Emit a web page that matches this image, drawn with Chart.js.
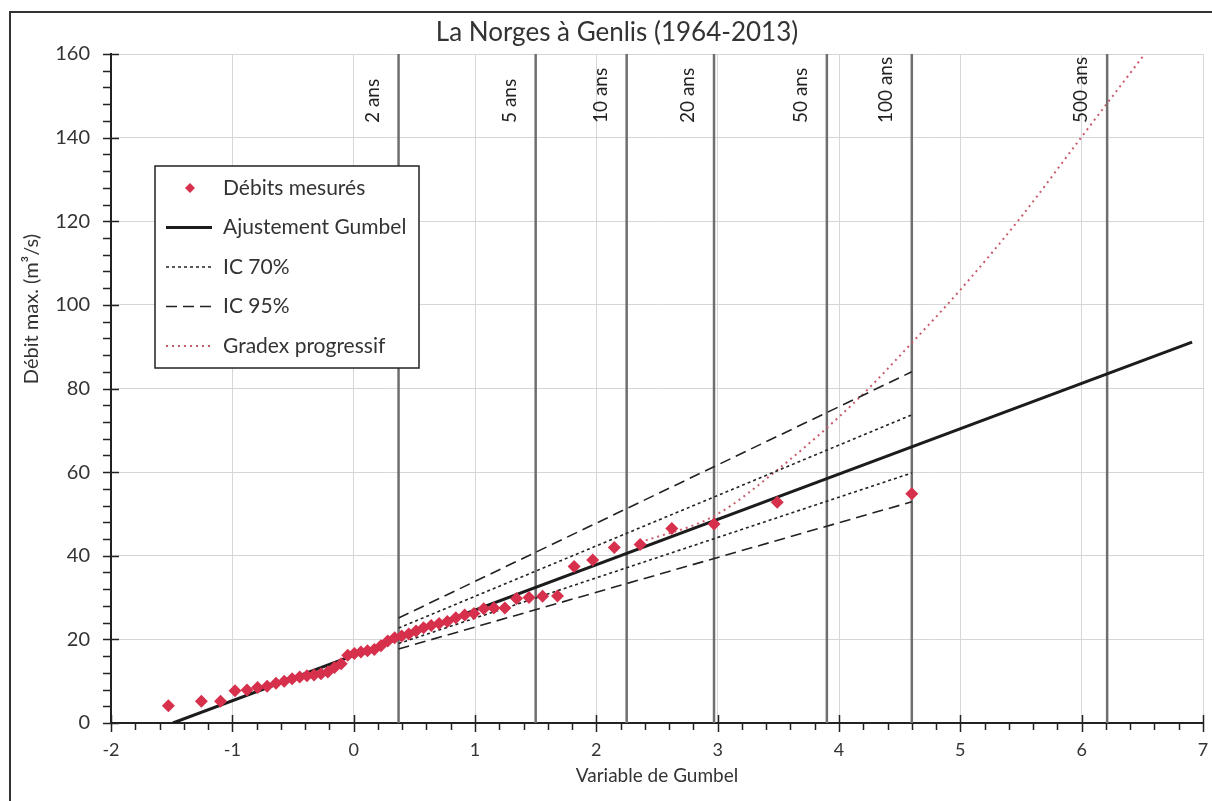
<!DOCTYPE html>
<html>
<head>
<meta charset="utf-8">
<script src="https://cdn.jsdelivr.net/npm/chart.js@4.4.0/dist/chart.umd.min.js"></script>
<style>
  html, body { margin: 0; padding: 0; background: #fff; }
  #wrap { width: 1212px; height: 801px; position: relative; }
</style>
</head>
<body>
<div id="wrap"><canvas id="gumbelChart" width="1212" height="801"></canvas></div>
<script>
// mesures (variable de Gumbel, debit max annuel)
const gumbelVar = [-1.527, -1.255, -1.097, -0.978, -0.879, -0.792, -0.713, -0.640, -0.572, -0.507,
  -0.445, -0.385, -0.327, -0.269, -0.213, -0.158, -0.103, -0.049, 0.006, 0.060,
  0.114, 0.170, 0.225, 0.281, 0.338, 0.396, 0.454, 0.514, 0.576, 0.639,
  0.704, 0.772, 0.842, 0.915, 0.991, 1.072, 1.156, 1.246, 1.342, 1.445,
  1.557, 1.680, 1.817, 1.970, 2.148, 2.361, 2.622, 2.970, 3.491, 4.600];
const debitsMesures = [4.1, 5.2, 5.2, 7.7, 7.9, 8.5, 8.8, 9.5, 10.0, 10.6,
  11.0, 11.3, 11.5, 11.8, 12.2, 13.3, 14.2, 16.2, 16.6, 17.0,
  17.3, 17.6, 18.5, 19.6, 20.4, 20.8, 21.3, 22.0, 22.8, 23.3,
  23.8, 24.3, 25.2, 25.8, 26.2, 27.3, 27.5, 27.5, 29.8, 30.0,
  30.3, 30.4, 37.4, 39.0, 42.0, 42.7, 46.5, 47.6, 52.8, 54.8];

// ajustement de Gumbel
const ajustX = [-1.49, 6.91];
const ajustY = [0, 91.1];

// intervalles de confiance (de 2 ans a 100 ans)
const icX = [0.37, 4.6];
const ic70Haut = [22.7, 73.7];
const ic70Bas = [19.0, 59.8];
const ic95Haut = [25.1, 84.0];
const ic95Bas = [17.7, 52.9];

// gradex progressif
const gradexX = [2.36, 2.97, 3.49, 4.15, 4.6, 5.0, 5.5, 6.0, 6.52];
const gradexY = [43.2, 49.5, 60.5, 77.3, 90.9, 103.6, 121, 140.2, 160];

// periodes de retour
const periodesLabels = ['2 ans', '5 ans', '10 ans', '20 ans', '50 ans', '100 ans', '500 ans'];
const periodesX = [0.37, 1.50, 2.25, 2.97, 3.90, 4.60, 6.21];

const FONT = 'Lato, "Open Sans", sans-serif';

function pts(xs, ys) {
  return xs.map((x, i) => ({ x: x, y: ys[i] }));
}

const decor = {
  id: 'decor',
  beforeDatasetsDraw(chart) {
    const { ctx, scales: { x, y } } = chart;
    ctx.save();
    ctx.strokeStyle = '#6f6f6f';
    ctx.lineWidth = 2.5;
    periodesX.forEach((v, i) => {
      const px = x.getPixelForValue(v);
      ctx.beginPath();
      ctx.moveTo(px, y.getPixelForValue(0));
      ctx.lineTo(px, y.getPixelForValue(160));
      ctx.stroke();
      ctx.save();
      ctx.translate(px - 26, 123);
      ctx.rotate(-Math.PI / 2);
      ctx.fillStyle = '#222';
      ctx.font = '19px ' + FONT;
      ctx.textAlign = 'left';
      ctx.textBaseline = 'middle';
      ctx.fillText(periodesLabels[i], 0, 0);
      ctx.restore();
    });
    ctx.restore();
  },
  afterDraw(chart) {
    const { ctx, chartArea: a, scales: { x, y } } = chart;
    ctx.save();

    // graduations
    ctx.strokeStyle = '#222';
    ctx.lineWidth = 1.5;
    ctx.beginPath();
    for (let v = -2; v <= 7.001; v += 0.2) {
      const px = Math.round(x.getPixelForValue(v)) + 0.5;
      const major = Math.abs(v - Math.round(v)) < 0.01;
      ctx.moveTo(px, a.bottom + (major ? -8 : 0));
      ctx.lineTo(px, a.bottom + (major ? 9 : 7));
    }
    for (let v = 0; v <= 160; v += 4) {
      const py = Math.round(y.getPixelForValue(v)) + 0.5;
      const major = v % 20 === 0;
      ctx.moveTo(a.left - 8, py);
      ctx.lineTo(a.left + (major ? 8 : 0), py);
    }
    ctx.stroke();

    // titre
    ctx.fillStyle = '#333';
    ctx.font = '26px ' + FONT;
    ctx.textAlign = 'center';
    ctx.textBaseline = 'middle';
    ctx.fillText('La Norges à Genlis (1964-2013)', 617, 33);

    // titre axe y
    ctx.save();
    ctx.translate(32, 309);
    ctx.rotate(-Math.PI / 2);
    ctx.font = '20px ' + FONT;
    ctx.fillText('Débit max. (m³/s)', 0, 0);
    ctx.restore();

    // legende
    const lx = 155, ly = 166, lw = 264, lh = 202;
    ctx.fillStyle = '#fff';
    ctx.fillRect(lx, ly, lw, lh);
    ctx.strokeStyle = '#222';
    ctx.lineWidth = 1.5;
    ctx.strokeRect(lx, ly, lw, lh);
    const items = chart.data.datasets.filter(d => d.inLegend !== false);
    items.forEach((d, i) => {
      const cy = 188 + i * 39.5;
      if (d.showLine === false) {
        ctx.fillStyle = d.backgroundColor;
        ctx.beginPath();
        ctx.moveTo(190, cy - 5);
        ctx.lineTo(195, cy);
        ctx.lineTo(190, cy + 5);
        ctx.lineTo(185, cy);
        ctx.closePath();
        ctx.fill();
      } else {
        ctx.strokeStyle = d.borderColor;
        ctx.lineWidth = d.borderWidth;
        ctx.setLineDash(d.borderDash || []);
        ctx.beginPath();
        ctx.moveTo(166, cy);
        ctx.lineTo(212, cy);
        ctx.stroke();
        ctx.setLineDash([]);
      }
      ctx.fillStyle = '#333';
      ctx.font = '21px ' + FONT;
      ctx.textAlign = 'left';
      ctx.textBaseline = 'middle';
      ctx.fillText(d.label, 223, cy);
    });

    // cadre
    ctx.strokeStyle = '#333';
    ctx.lineWidth = 2;
    ctx.strokeRect(10, 12, 1400, 1000);
    ctx.restore();
  }
};

const ctx = document.getElementById('gumbelChart').getContext('2d');
new Chart(ctx, {
  type: 'scatter',
  data: {
    datasets: [
      {
        label: 'Débits mesurés',
        data: pts(gumbelVar, debitsMesures),
        showLine: false,
        pointStyle: 'rectRot',
        pointRadius: 6.5,
        backgroundColor: '#d6304c',
        borderColor: '#d6304c',
        borderWidth: 0
      },
      {
        label: 'Ajustement Gumbel',
        data: pts(ajustX, ajustY),
        showLine: true,
        borderColor: '#1c1c1c',
        borderWidth: 3,
        pointRadius: 0
      },
      {
        label: 'IC 70%',
        data: pts(icX, ic70Haut),
        showLine: true,
        borderColor: '#222',
        borderWidth: 1.6,
        borderDash: [3, 3],
        pointRadius: 0
      },
      {
        label: 'IC 70%',
        data: pts(icX, ic70Bas),
        showLine: true,
        borderColor: '#222',
        borderWidth: 1.6,
        borderDash: [3, 3],
        pointRadius: 0,
        inLegend: false
      },
      {
        label: 'IC 95%',
        data: pts(icX, ic95Haut),
        showLine: true,
        borderColor: '#222',
        borderWidth: 1.6,
        borderDash: [11, 6],
        pointRadius: 0
      },
      {
        label: 'IC 95%',
        data: pts(icX, ic95Bas),
        showLine: true,
        borderColor: '#222',
        borderWidth: 1.6,
        borderDash: [11, 6],
        pointRadius: 0,
        inLegend: false
      },
      {
        label: 'Gradex progressif',
        data: pts(gradexX, gradexY),
        showLine: true,
        borderColor: '#c95c6c',
        borderWidth: 2,
        borderDash: [2, 4],
        pointRadius: 0,
        cubicInterpolationMode: 'monotone'
      }
    ]
  },
  options: {
    responsive: false,
    animation: false,
    layout: { padding: { top: 54, right: 9, left: 0, bottom: 0 } },
    plugins: {
      legend: { display: false },
      tooltip: { enabled: false }
    },
    scales: {
      x: {
        type: 'linear',
        min: -2,
        max: 7,
        afterFit(scale) {
          scale.height = 78;
          scale.paddingLeft = 0;
          scale.paddingRight = 0;
        },
        ticks: { stepSize: 1, padding: 16, color: '#333', font: { family: FONT, size: 18 } },
        grid: { color: '#d6d6d6', lineWidth: 1, drawTicks: false },
        border: { color: '#222', width: 2 },
        title: {
          display: true,
          text: 'Variable de Gumbel',
          color: '#333',
          font: { family: FONT, size: 19 },
          padding: { top: 0, bottom: 14 }
        }
      },
      y: {
        type: 'linear',
        min: 0,
        max: 160,
        afterFit(scale) { scale.width = 111; },
        ticks: { stepSize: 20, padding: 21, color: '#333', font: { family: FONT, size: 20 } },
        grid: { color: '#d6d6d6', lineWidth: 1, drawTicks: false },
        border: { color: '#222', width: 2 }
      }
    }
  },
  plugins: [decor]
});
</script>
</body>
</html>
